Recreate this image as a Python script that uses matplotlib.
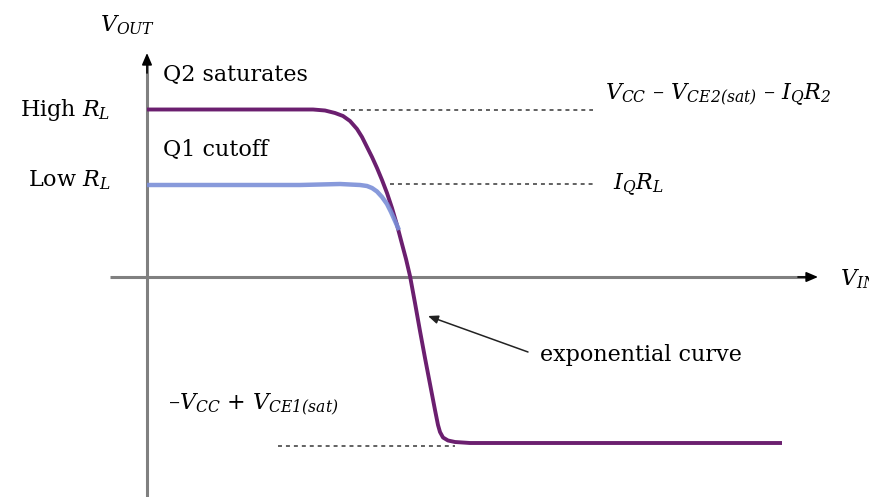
import numpy as np
import matplotlib.pyplot as plt

serif = 'DejaVu Serif'
plt.rcParams['font.family'] = serif
plt.rcParams['mathtext.fontset'] = 'custom'
plt.rcParams['mathtext.rm'] = serif + ':italic'
plt.rcParams['mathtext.it'] = serif + ':italic'

# transfer curve, high load resistance (V_IN, V_OUT)
high_vin = [0, 166, 178, 188, 196, 203, 210, 215, 220, 225, 230, 235, 240, 245, 250,
            255, 259, 263, 268, 273, 278, 283, 288, 291, 293, 296, 301, 308, 323, 635]
high_vout = [167.5, 167.5, 166.5, 164, 161, 156, 148, 140, 130, 120, 109, 97, 84, 69, 52,
             33, 18, 1, -26, -54, -81, -107, -133, -148, -155, -160.5, -163.5, -165, -166, -166]

# transfer curve, low load resistance
low_vin = [0, 153, 193, 213, 220, 225, 230, 235, 240, 244, 248, 252]
low_vout = [92, 92, 93, 92, 91, 89, 85.5, 80, 73, 65, 56, 47]

# reference levels
v_high = 167.5
v_low = 93
v_sat = -169

purple = '#6b1f6f'
blue = '#7b8fd8'
axis_gray = '#808080'
dash_gray = '#555555'

fig = plt.figure(figsize=(8.7, 4.97), dpi=100)
ax = fig.add_axes([0, 0, 1, 1])
ax.set_xlim(-147, 723)
ax.set_ylim(-220, 277)
ax.axis('off')

# axes with arrow heads
ax.plot([0, 0], [-220, 214], color=axis_gray, lw=2.2, solid_capstyle='butt')
ax.plot([-37, 661], [0, 0], color=axis_gray, lw=2.2, solid_capstyle='butt')
ax.annotate('', xy=(0, 224), xytext=(0, 204),
            arrowprops=dict(arrowstyle='-|>,head_length=0.7,head_width=0.3',
                            color='black', lw=1.2, shrinkA=0, shrinkB=0))
ax.annotate('', xy=(671, 0), xytext=(651, 0),
            arrowprops=dict(arrowstyle='-|>,head_length=0.7,head_width=0.3',
                            color='black', lw=1.2, shrinkA=0, shrinkB=0))

# dashed guide lines
ax.plot([196, 446], [v_high, v_high], ls=(0, (2.2, 2.2)), color=dash_gray, lw=1.3)
ax.plot([243, 446], [v_low, v_low], ls=(0, (2.2, 2.2)), color=dash_gray, lw=1.3)
ax.plot([131, 308], [v_sat, v_sat], ls=(0, (2.2, 2.2)), color=dash_gray, lw=1.3)

# curves
ax.plot(high_vin, high_vout, color=purple, lw=2.8, solid_capstyle='butt')
ax.plot(low_vin, low_vout, color=blue, lw=3.2, alpha=0.9, solid_capstyle='butt')

# arrow to the steep part
ax.annotate('', xy=(281, -39), xytext=(381, -75),
            arrowprops=dict(arrowstyle='-|>,head_length=0.6,head_width=0.25',
                            color='#222222', lw=1.1, shrinkA=0, shrinkB=0))

fs = 16
ax.text(-47, 252, r'$V_{OUT}$', fontsize=fs, va='center', ha='left')
ax.text(693, -2, r'$V_{IN}$', fontsize=fs, va='center', ha='left')
ax.text(16, 202, 'Q2 saturates', fontsize=fs, va='center', ha='left')
ax.text(16, 127, 'Q1 cutoff', fontsize=fs, va='center', ha='left')
ax.text(-37, 167, r'High $R_L$', fontsize=fs, va='center', ha='right')
ax.text(-37, 97, r'Low $R_L$', fontsize=fs, va='center', ha='right')
ax.text(458, 182, r'$V_{CC}$ – $V_{CE2(sat)}$ – $I_QR_2$', fontsize=fs,
        va='center', ha='left')
ax.text(466, 92, r'$I_QR_L$', fontsize=fs, va='center', ha='left')
ax.text(21, -128, r'–$V_{CC}$ + $V_{CE1(sat)}$', fontsize=fs,
        va='center', ha='left')
ax.text(393, -78, 'exponential curve', fontsize=fs, va='center', ha='left')

fig.savefig('out.png', dpi=100)
